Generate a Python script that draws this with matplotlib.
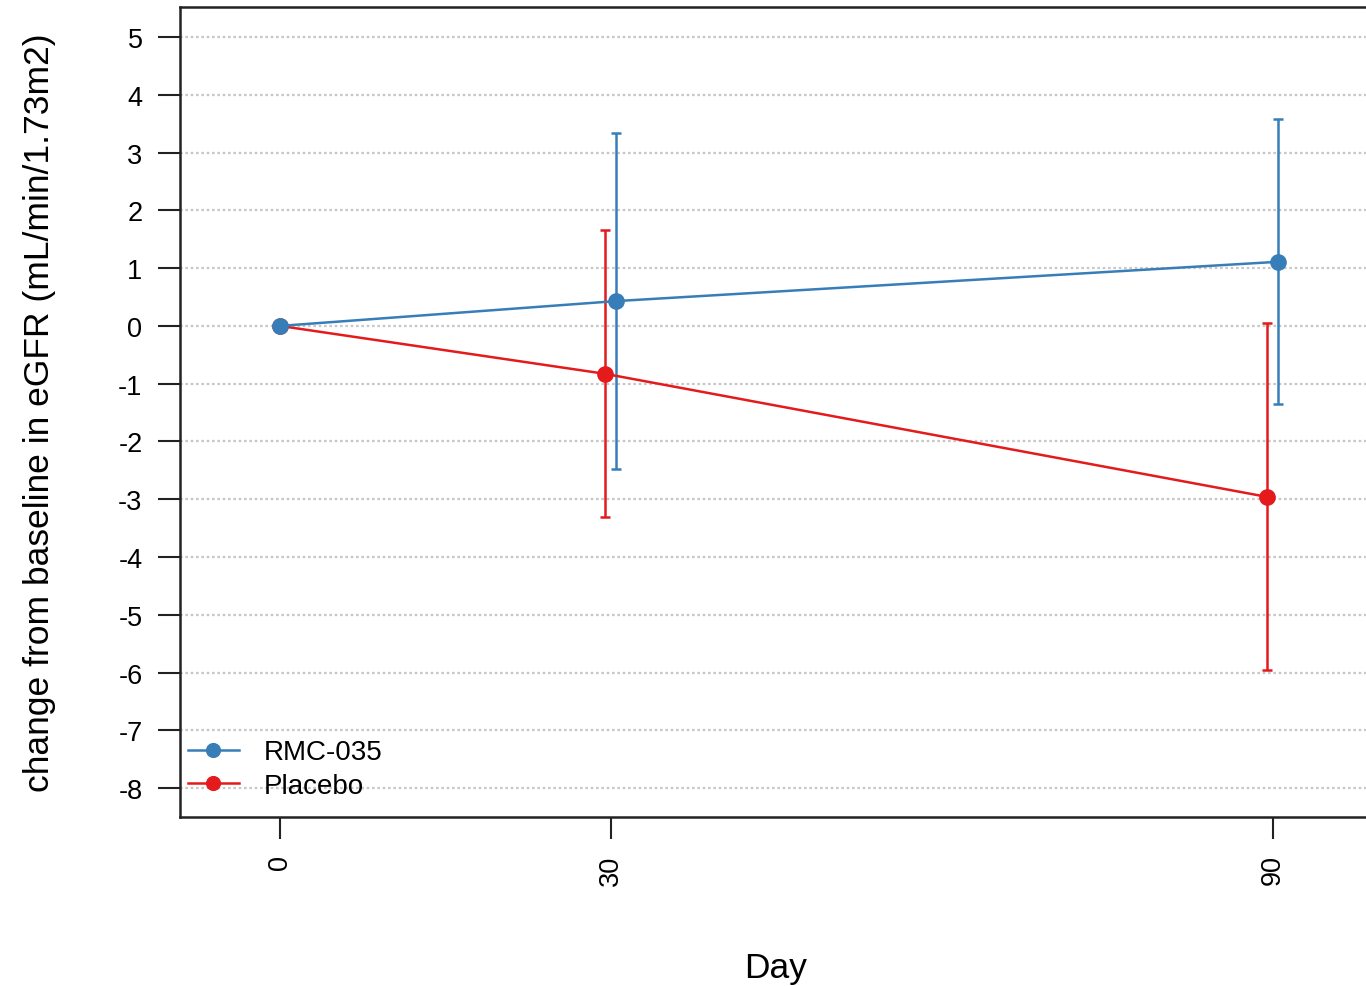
import numpy as np
import matplotlib
matplotlib.use("Agg")
import matplotlib.pyplot as plt

# data
days = np.array([0, 30, 90])
rmc_mean = np.array([0.0, 0.43, 1.11])
rmc_lo = np.array([np.nan, -2.48, -1.36])
rmc_hi = np.array([np.nan, 3.34, 3.58])
pla_mean = np.array([0.0, -0.83, -2.96])
pla_lo = np.array([np.nan, -3.31, -5.96])
pla_hi = np.array([np.nan, 1.66, 0.05])
dodge = 0.5

blue = '#377EB8'
red = '#E41A1C'

plt.rcParams['font.family'] = ['Liberation Sans', 'DejaVu Sans']
plt.rcParams['axes.unicode_minus'] = False

fig = plt.figure(figsize=(13.66, 9.87), dpi=100)
# axes deliberately run past the right edge like the reference crop
ax = fig.add_axes([180/1366, 1-818/987, (1372-180)/1366, 810/987])

ax.set_xlim(-9.07, 99)
ax.set_ylim(-8.5, 5.52)

for y in range(-8, 6):
    ax.axhline(y, color='#c8c8c8', ls=(0, (1.2, 1.2)), lw=1.6, zorder=0)

def draw(x, mean, lo, hi, color, label):
    ax.plot(x, mean, color=color, lw=1.8, marker='o', ms=11, label=label, zorder=3)
    m = ~np.isnan(lo)
    ax.errorbar(x[m], mean[m], yerr=[mean[m]-lo[m], hi[m]-mean[m]],
                fmt='none', ecolor=color, elinewidth=1.8, capsize=3.8, capthick=1.8, zorder=2)

draw(days - np.array([0, dodge, dodge]), pla_mean, pla_lo, pla_hi, red, 'Placebo')
draw(days + np.array([0, dodge, dodge]), rmc_mean, rmc_lo, rmc_hi, blue, 'RMC-035')

ax.set_yticks(range(-8, 6))
ax.set_xticks(days)
ax.set_xticklabels([str(d) for d in days], rotation=90)
ax.tick_params(axis='both', length=16, width=1.5, labelsize=19.5, pad=11, color='#222222')
for s in ax.spines.values():
    s.set_linewidth(1.8)
    s.set_color('#222222')

ax.set_ylabel('change from baseline in eGFR (mL/min/1.73m2)', fontsize=25.5, labelpad=45)
ax.set_xlabel('Day', fontsize=25.5, labelpad=48)

h, l = ax.get_legend_handles_labels()
ax.legend(h[::-1], l[::-1], loc='lower left', frameon=False, fontsize=20,
          handlelength=1.85, handletextpad=0.9, borderpad=0.1, borderaxespad=0.0,
          labelspacing=0.28, bbox_to_anchor=(0.0042, 0.0186), markerscale=0.9)

fig.savefig('out.png', dpi=100)
